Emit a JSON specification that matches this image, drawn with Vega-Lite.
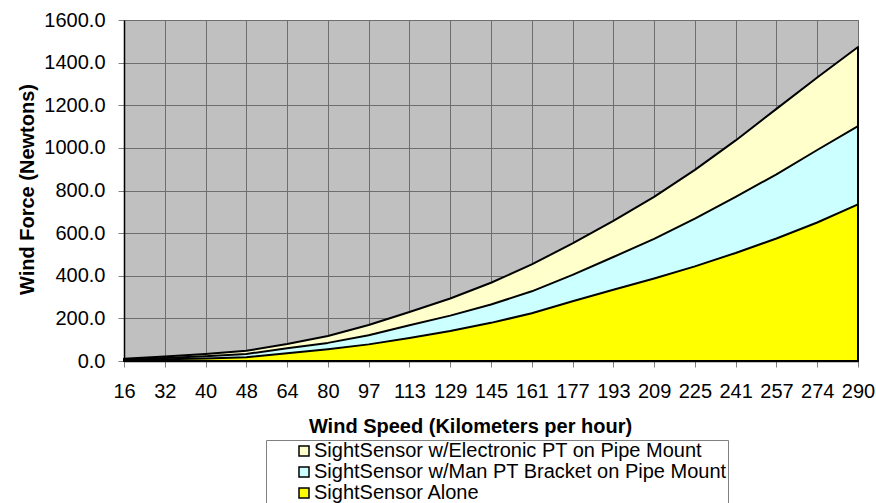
{
  "$schema": "https://vega.github.io/schema/vega-lite/v6.json",
  "width": 734,
  "height": 341,
  "autosize": {"type": "none"},
  "padding": {"left": 124, "top": 20, "right": 18, "bottom": 142},
  "background": "white",
  "config": {
    "font": "Liberation Sans",
    "view": {"fill": "#C0C0C0", "stroke": "#808080", "strokeWidth": 1}
  },
  "data": {"values": [
    {"speed": 16, "series": "SightSensor w/Electronic PT on Pipe Mount", "force": 11},
    {"speed": 32, "series": "SightSensor w/Electronic PT on Pipe Mount", "force": 21},
    {"speed": 40, "series": "SightSensor w/Electronic PT on Pipe Mount", "force": 33},
    {"speed": 48, "series": "SightSensor w/Electronic PT on Pipe Mount", "force": 48},
    {"speed": 64, "series": "SightSensor w/Electronic PT on Pipe Mount", "force": 80},
    {"speed": 80, "series": "SightSensor w/Electronic PT on Pipe Mount", "force": 117},
    {"speed": 97, "series": "SightSensor w/Electronic PT on Pipe Mount", "force": 169},
    {"speed": 113, "series": "SightSensor w/Electronic PT on Pipe Mount", "force": 230},
    {"speed": 129, "series": "SightSensor w/Electronic PT on Pipe Mount", "force": 293},
    {"speed": 145, "series": "SightSensor w/Electronic PT on Pipe Mount", "force": 367},
    {"speed": 161, "series": "SightSensor w/Electronic PT on Pipe Mount", "force": 453},
    {"speed": 177, "series": "SightSensor w/Electronic PT on Pipe Mount", "force": 552},
    {"speed": 193, "series": "SightSensor w/Electronic PT on Pipe Mount", "force": 658},
    {"speed": 209, "series": "SightSensor w/Electronic PT on Pipe Mount", "force": 770},
    {"speed": 225, "series": "SightSensor w/Electronic PT on Pipe Mount", "force": 897},
    {"speed": 241, "series": "SightSensor w/Electronic PT on Pipe Mount", "force": 1035},
    {"speed": 257, "series": "SightSensor w/Electronic PT on Pipe Mount", "force": 1183},
    {"speed": 274, "series": "SightSensor w/Electronic PT on Pipe Mount", "force": 1330},
    {"speed": 290, "series": "SightSensor w/Electronic PT on Pipe Mount", "force": 1473},
    {"speed": 16, "series": "SightSensor w/Man PT Bracket on Pipe Mount", "force": 7},
    {"speed": 32, "series": "SightSensor w/Man PT Bracket on Pipe Mount", "force": 14},
    {"speed": 40, "series": "SightSensor w/Man PT Bracket on Pipe Mount", "force": 22},
    {"speed": 48, "series": "SightSensor w/Man PT Bracket on Pipe Mount", "force": 33},
    {"speed": 64, "series": "SightSensor w/Man PT Bracket on Pipe Mount", "force": 60},
    {"speed": 80, "series": "SightSensor w/Man PT Bracket on Pipe Mount", "force": 85},
    {"speed": 97, "series": "SightSensor w/Man PT Bracket on Pipe Mount", "force": 121},
    {"speed": 113, "series": "SightSensor w/Man PT Bracket on Pipe Mount", "force": 168},
    {"speed": 129, "series": "SightSensor w/Man PT Bracket on Pipe Mount", "force": 213},
    {"speed": 145, "series": "SightSensor w/Man PT Bracket on Pipe Mount", "force": 265},
    {"speed": 161, "series": "SightSensor w/Man PT Bracket on Pipe Mount", "force": 327},
    {"speed": 177, "series": "SightSensor w/Man PT Bracket on Pipe Mount", "force": 404},
    {"speed": 193, "series": "SightSensor w/Man PT Bracket on Pipe Mount", "force": 488},
    {"speed": 209, "series": "SightSensor w/Man PT Bracket on Pipe Mount", "force": 573},
    {"speed": 225, "series": "SightSensor w/Man PT Bracket on Pipe Mount", "force": 668},
    {"speed": 241, "series": "SightSensor w/Man PT Bracket on Pipe Mount", "force": 770},
    {"speed": 257, "series": "SightSensor w/Man PT Bracket on Pipe Mount", "force": 876},
    {"speed": 274, "series": "SightSensor w/Man PT Bracket on Pipe Mount", "force": 990},
    {"speed": 290, "series": "SightSensor w/Man PT Bracket on Pipe Mount", "force": 1102},
    {"speed": 16, "series": "SightSensor Alone", "force": 4},
    {"speed": 32, "series": "SightSensor Alone", "force": 8},
    {"speed": 40, "series": "SightSensor Alone", "force": 12},
    {"speed": 48, "series": "SightSensor Alone", "force": 18},
    {"speed": 64, "series": "SightSensor Alone", "force": 36},
    {"speed": 80, "series": "SightSensor Alone", "force": 55},
    {"speed": 97, "series": "SightSensor Alone", "force": 78},
    {"speed": 113, "series": "SightSensor Alone", "force": 108},
    {"speed": 129, "series": "SightSensor Alone", "force": 141},
    {"speed": 145, "series": "SightSensor Alone", "force": 179},
    {"speed": 161, "series": "SightSensor Alone", "force": 224},
    {"speed": 177, "series": "SightSensor Alone", "force": 280},
    {"speed": 193, "series": "SightSensor Alone", "force": 334},
    {"speed": 209, "series": "SightSensor Alone", "force": 387},
    {"speed": 225, "series": "SightSensor Alone", "force": 444},
    {"speed": 241, "series": "SightSensor Alone", "force": 507},
    {"speed": 257, "series": "SightSensor Alone", "force": 575},
    {"speed": 274, "series": "SightSensor Alone", "force": 650},
    {"speed": 290, "series": "SightSensor Alone", "force": 735}
  ]},
  "mark": {"type": "area", "stroke": "black", "strokeWidth": 2, "strokeJoin": "round"},
  "encoding": {
    "x": {
      "field": "speed", "type": "ordinal",
      "scale": {"padding": 0},
      "axis": {
        "title": "Wind Speed (Kilometers per hour)",
        "titleFontSize": 20, "titleFontWeight": "bold", "titleColor": "black",
        "titleX": 346, "titleY": 71, "titleBaseline": "alphabetic", "titleAlign": "center",
        "labelFontSize": 20, "labelColor": "black", "labelAngle": 0, "labelPadding": 14,
        "labelOverlap": false, "labelFlush": false,
        "tickSize": 6, "tickColor": "#808080",
        "domainColor": "black", "domainWidth": 1.5,
        "grid": true, "gridColor": "#6E6E6E", "gridWidth": 1
      }
    },
    "y": {
      "field": "force", "type": "quantitative", "stack": null,
      "scale": {"domain": [0, 1600], "nice": false},
      "axis": {
        "title": "Wind Force (Newtons)",
        "titleFontSize": 20, "titleFontWeight": "bold", "titleColor": "black",
        "titleX": -91, "titleY": 169, "titleAngle": -90, "titleBaseline": "alphabetic", "titleAlign": "center",
        "values": [0, 200, 400, 600, 800, 1000, 1200, 1400, 1600],
        "format": ".1f",
        "labelFontSize": 20, "labelColor": "black", "labelPadding": 13,
        "tickSize": 6, "tickColor": "#808080",
        "domainColor": "black", "domainWidth": 1.5,
        "grid": true, "gridColor": "#6E6E6E", "gridWidth": 1
      }
    },
    "color": {
      "field": "series", "type": "nominal",
      "scale": {
        "domain": ["SightSensor w/Electronic PT on Pipe Mount", "SightSensor w/Man PT Bracket on Pipe Mount", "SightSensor Alone"],
        "range": ["#FFFFCC", "#CCFFFF", "#FFFF00"]
      },
      "legend": {
        "orient": "none", "legendX": 142, "legendY": 420,
        "title": null,
        "strokeColor": "#808080", "fillColor": "white", "padding": 1,
        "symbolOffset": 27,
        "symbolType": "square", "symbolSize": 100,
        "symbolStrokeColor": "black", "symbolStrokeWidth": 1.5,
        "labelFontSize": 20, "labelColor": "black", "labelOffset": 0, "labelLimit": 600,
        "rowPadding": 1
      }
    }
  }
}
